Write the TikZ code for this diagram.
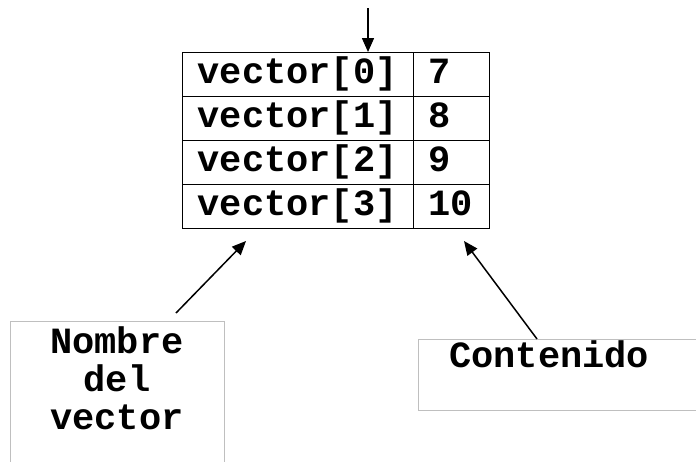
\documentclass[tikz,border=0pt]{standalone}
\usepackage{fontspec}
\setmonofont{Liberation Mono}
\usetikzlibrary{arrows.meta}
\begin{document}
\begin{tikzpicture}[x=1pt,y=-1pt,
  txt/.style={font=\ttfamily\bfseries\fontsize{37}{38}\selectfont, inner sep=0pt},
  cellbase/.style={txt, draw=black, line width=1.3pt, rectangle, anchor=north west,
    minimum height=44pt, text height=26pt, text depth=8pt, inner ysep=5pt, align=left},
  namecell/.style={cellbase, text width=201pt, inner xsep=15pt},
  valcell/.style={cellbase, text width=46pt, inner xsep=15pt},
  lblbox/.style={draw=black!25, line width=1.3pt, rectangle, anchor=north west, inner sep=0pt},
  ptr/.style={-{Triangle[length=14pt,width=12pt]}, line width=1.5pt}
]
\clip (0,0) rectangle (696,461);
\fill[white] (0,0) rectangle (696,461);
% table
\node[namecell] (c0) at (182,52)  {vector[0]};
\node[namecell] (c1) at (182,96)  {vector[1]};
\node[namecell] (c2) at (182,140) {vector[2]};
\node[namecell] (c3) at (182,184) {vector[3]};
\node[valcell] (v0) at (413,52)  {7};
\node[valcell] (v1) at (413,96)  {8};
\node[valcell] (v2) at (413,140) {9};
\node[valcell] (v3) at (413,184) {10};
% label boxes
\node[lblbox, minimum width=214pt, minimum height=200pt] (nb) at (10,321) {};
\node[txt, align=center, anchor=north] (nbt) at (117,326) {Nombre\\del\\vector};
\node[lblbox, minimum width=300pt, minimum height=71pt] (ct) at (418,339) {};
\node[txt, anchor=base west] (ctt) at (449,367) {Contenido};
% arrows
\coordinate (topin) at (368,8);
\draw[ptr] (topin) -- (topin |- c0.north);
\coordinate (ltail) at (176,313);
\coordinate (lhead) at (246,241);
\draw[ptr] (ltail) -- (lhead);
\coordinate (rtail) at (537,339);
\coordinate (rhead) at (464,241);
\draw[ptr] (rtail) -- (rhead);
\end{tikzpicture}
\end{document}
